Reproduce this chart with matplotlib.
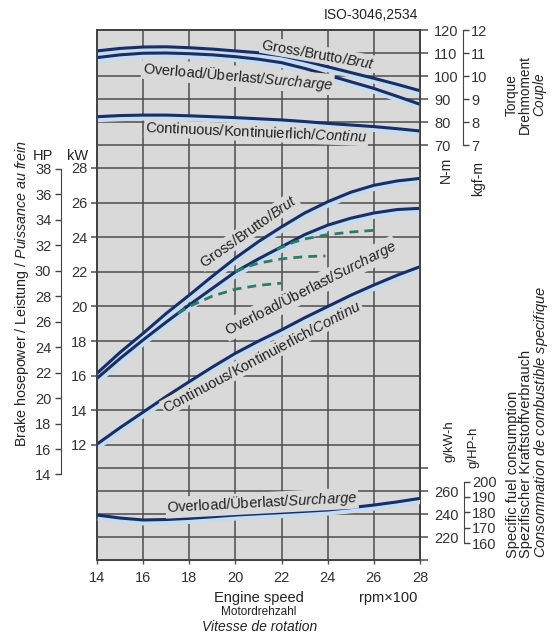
import matplotlib
matplotlib.use('Agg')
import matplotlib.pyplot as plt
import matplotlib.patheffects as pe
from matplotlib.ticker import FixedLocator, FixedFormatter

plt.rcParams['font.family'] = ['Liberation Sans', 'DejaVu Sans']
plt.rcParams['mathtext.fontset'] = 'custom'
plt.rcParams['mathtext.rm'] = 'Liberation Sans'
plt.rcParams['mathtext.it'] = 'Liberation Sans:italic'
plt.rcParams['mathtext.bf'] = 'Liberation Sans:bold'

# ---------------- data ----------------
rpm = [14, 15, 16, 17, 18, 19, 20, 21, 22, 23, 24, 25, 26, 27, 28]
torque_gross = [110.9, 112.0, 112.6, 112.7, 112.3, 111.7, 110.9, 110.1, 108.8, 106.6, 104.0, 101.5, 99.0, 96.4, 93.6]
torque_overload = [108.0, 109.2, 109.9, 110.0, 109.7, 109.2, 108.4, 107.3, 105.8, 103.3, 100.4, 97.5, 94.6, 91.2, 87.7]
torque_cont = [82.3, 82.8, 83.0, 83.0, 82.7, 82.3, 81.9, 81.4, 80.9, 80.2, 79.4, 78.7, 78.0, 77.1, 76.1]
power_gross = [16.14, 17.35, 18.45, 19.6, 20.66, 21.75, 22.8, 23.75, 24.6, 25.4, 26.05, 26.6, 27.0, 27.25, 27.4]
power_overload = [15.85, 17.0, 18.07, 19.1, 20.09, 21.05, 22.0, 22.75, 23.45, 24.15, 24.7, 25.1, 25.4, 25.6, 25.67]
power_cont = [12.05, 13.0, 13.9, 14.8, 15.66, 16.5, 17.3, 18.0, 18.65, 19.35, 20.0, 20.65, 21.24, 21.8, 22.3]
fuel_overload = [239.1, 236.5, 234.8, 235.2, 236.2, 237.6, 239.1, 240.2, 241.2, 242.3, 243.5, 245.5, 247.8, 250.5, 253.6]

dash_low_rpm = [17.5, 18, 19, 20, 21, 22.0]
dash_low_kw = [19.6, 20.0, 20.6, 21.0, 21.22, 21.35]
dash_mid_rpm = [20.0, 20.5, 21, 22, 23, 23.9]
dash_mid_kw = [22.0, 22.3, 22.5, 22.75, 22.88, 22.92]
dash_top_rpm = [21.8, 22.5, 23, 24, 25, 26.0]
dash_top_kw = [23.3, 23.7, 23.9, 24.15, 24.3, 24.4]

x_ticks = [14, 16, 18, 20, 22, 24, 26, 28]
kw_ticks = [12, 14, 16, 18, 20, 22, 24, 26, 28]
hp_ticks = [14, 16, 18, 20, 22, 24, 26, 28, 30, 32, 34, 36, 38]
nm_ticks = [70, 80, 90, 100, 110, 120]
kgf_ticks = [7, 8, 9, 10, 11, 12]
fuel_ticks = [200, 220, 240, 260, 280]
fuel_labels = ['', '220', '240', '260', '']
ghp_ticks = [160, 170, 180, 190, 200]

# ---------------- figure ----------------
W, H = 560, 635
fig = plt.figure(figsize=(W / 100, H / 100), dpi=100)
fig.patch.set_facecolor('white')


def fx(x):
    return x / W


def fy(y):
    return 1 - y / H


L, R, T, B = 97, 420, 30, 560
ax = fig.add_axes([fx(L), fy(B), (R - L) / W, (B - T) / H])
ax_t = ax.twinx()
ax_f = ax.twinx()

grid_c = '#4d4d4d'
ax.set_facecolor('#d9d9d9')
ax.set_xlim(14, 28)
ax.set_ylim(5.357, 35.971)
ax_t.set_ylim(-110.43, 120)
ax_f.set_ylim(200, 660.87)

for a in (ax, ax_t, ax_f):
    for s in a.spines.values():
        s.set_color('#444444')
        s.set_linewidth(1.2)

ax.set_axisbelow(True)
ax.xaxis.set_major_locator(FixedLocator(x_ticks))
ax.yaxis.set_major_locator(FixedLocator(kw_ticks))
ax.grid(True, color=grid_c, linewidth=1.1)
ax.tick_params(axis='x', direction='out', length=3, width=1, color=grid_c,
               labelsize=10.5, pad=5, labelcolor='#333333')
ax.tick_params(axis='y', direction='out', length=4, width=1.1, color=grid_c,
               labelsize=10.5, pad=3, labelcolor='#333333')

ax_t.yaxis.set_major_locator(FixedLocator(nm_ticks))
ax_t.grid(True, axis='y', color=grid_c, linewidth=1.1)
ax_t.tick_params(axis='y', direction='out', length=6, width=1.1, color=grid_c,
                 labelsize=10.5, pad=4, labelcolor='#333333')

ax_f.yaxis.set_major_locator(FixedLocator(fuel_ticks))
ax_f.yaxis.set_major_formatter(FixedFormatter(fuel_labels))
ax_f.grid(True, axis='y', color=grid_c, linewidth=1.1)
ax_f.tick_params(axis='y', direction='out', length=6, width=1.1, color=grid_c,
                 labelsize=10.5, pad=4, labelcolor='#333333')

# secondary unit scales
hp = ax.secondary_yaxis((61 - L) / (R - L), functions=(lambda k: k / 0.7355, lambda h: h * 0.7355))
hp.yaxis.set_major_locator(FixedLocator(hp_ticks))
hp.spines['left'].set_bounds(14, 38)
hp.spines['left'].set_color('#444444')
hp.tick_params(axis='y', direction='out', length=4, width=1, color='#444444',
               labelsize=10.5, pad=3, labelcolor='#333333')

kgf = ax_t.secondary_yaxis((463 - L) / (R - L), functions=(lambda n: n / 10.0, lambda k: k * 10.0))
kgf.yaxis.set_major_locator(FixedLocator(kgf_ticks))
kgf.spines['right'].set_bounds(7, 12)
kgf.spines['right'].set_color('#444444')
kgf.tick_params(axis='y', direction='out', length=4, width=1, color='#444444',
                labelsize=10.5, pad=2, labelcolor='#333333')

ghp = ax_f.secondary_yaxis((464 - L) / (R - L), functions=(lambda g: g * 0.7457, lambda h: h / 0.7457))
ghp.yaxis.set_major_locator(FixedLocator(ghp_ticks))
ghp.spines['right'].set_bounds(160, 200)
ghp.spines['right'].set_color('#444444')
ghp.tick_params(axis='y', direction='out', length=4, width=1, color='#444444',
                labelsize=10.5, pad=2, labelcolor='#333333')

# ---------------- curves ----------------
navy = '#1d2d5e'
halo = [pe.Stroke(offset=(0.6, -2.0), linewidth=4.0, foreground='#c3dcf5'), pe.Normal()]
kw_line = dict(color=navy, linewidth=2.2, zorder=3, path_effects=halo, solid_capstyle='butt')

ax.plot(rpm, power_gross, **kw_line)
ax.plot(rpm, power_overload, **kw_line)
ax.plot(rpm, power_cont, **kw_line)
ax_t.plot(rpm, torque_gross, **kw_line)
ax_t.plot(rpm, torque_overload, **kw_line)
ax_t.plot(rpm, torque_cont, **kw_line)
ax_f.plot(rpm, fuel_overload, **kw_line)

dash = dict(color='#2f7a68', linewidth=2.0, linestyle=(0, (3.2, 2.2)), zorder=3)
ax.plot(dash_low_rpm, dash_low_kw, **dash)
ax.plot(dash_mid_rpm, dash_mid_kw, **dash)
ax.plot(dash_top_rpm, dash_top_kw, **dash)

# ---------------- curve labels ----------------
bb = dict(boxstyle='square,pad=0.08', fc='#d9d9d9', ec='none')
lab = dict(fontsize=10.5, color='#222222', ha='center', va='center',
           rotation_mode='anchor', bbox=bb, zorder=4)

GROSS = r'Gross/Brutto/$\mathit{Brut}$'
OVER = r'Overload/Überlast/$\mathit{Surcharge}$'
CONT = r'Continuous/Kontinuierlich/$\mathit{Continu}$'

ax_t.text(23.6, 109.4, GROSS, rotation=-10, **lab)
ax_t.text(20.1, 99.8, OVER, rotation=-5, **lab)
ax_t.text(20.9, 75.3, CONT, rotation=-2.5, **lab)

ax.text(20.55, 24.35, GROSS, rotation=35, **lab)
ax.text(23.25, 21.05, OVER, rotation=27, **lab)
ax.text(21.15, 17.1, CONT, rotation=28, **lab)

ax_f.text(21.15, 249.6, OVER, rotation=3, **lab)

# ---------------- axis titles / texts ----------------
txt = dict(color='#222222')
fig.text(fx(418), fy(15), 'ISO-3046,2534', ha='right', va='center', fontsize=10, **txt)
fig.text(fx(43), fy(156), 'HP', ha='center', va='center', fontsize=10.5, **txt)
fig.text(fx(78), fy(156), 'kW', ha='center', va='center', fontsize=10.5, **txt)
fig.text(fx(22), fy(293), r'Brake hosepower / Leistung / $\mathit{Puissance\ au\ frein}$',
         rotation=90, ha='center', va='center', fontsize=10.3, **txt)

fig.text(fx(446), fy(170), 'N-m', rotation=90, ha='center', va='center', fontsize=10, **txt)
fig.text(fx(478), fy(178), 'kgf-m', rotation=90, ha='center', va='center', fontsize=10, **txt)
fig.text(fx(527), fy(95), 'Torque\nDrehmoment\n' + r'$\mathit{Couple}$', rotation=90,
         ha='center', va='center', multialignment='center', fontsize=9.8, linespacing=0.95, **txt)

fig.text(fx(449), fy(441), 'g/kW-h', rotation=90, ha='center', va='center', fontsize=9.5, **txt)
fig.text(fx(474), fy(447), 'g/HP-h', rotation=90, ha='center', va='center', fontsize=9.5, **txt)
fig.text(fx(528), fy(558),
         'Specific fuel consumption\nSpezifischer Kraftstoffverbrauch\n'
         + r'$\mathit{Consommation\ de\ combustible\ specifique}$',
         rotation=90, ha='center', va='bottom', multialignment='left',
         fontsize=10.5, linespacing=0.92, **txt)

fig.text(fx(259), fy(598), 'Engine speed', ha='center', va='center', fontsize=10.5, **txt)
fig.text(fx(259), fy(612), 'Motordrehzahl', ha='center', va='center', fontsize=8.5, **txt)
fig.text(fx(260), fy(627), 'Vitesse de rotation', ha='center', va='center', fontsize=10,
         style='italic', **txt)
fig.text(fx(388), fy(598), 'rpm×100', ha='center', va='center', fontsize=10.5, **txt)

fig.savefig('out.png', dpi=100)
